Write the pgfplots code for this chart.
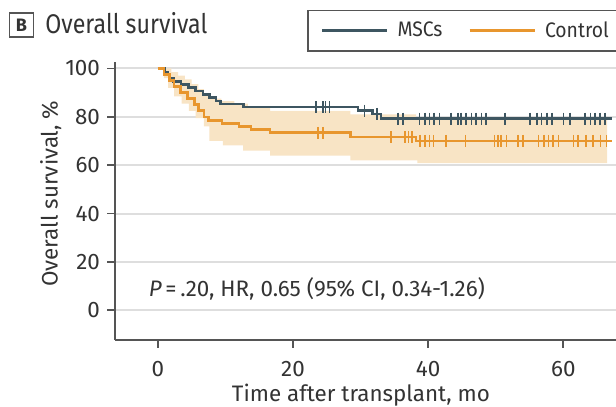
\documentclass[border=0pt]{standalone}
\usepackage{fontspec}
\setmainfont{Fira Sans}
\newfontfamily\titlefont{Fira Sans}[FakeStretch=0.86]
\newfontfamily\legfont{Fira Sans}[FakeStretch=0.92]
\usepackage{pgfplots}
\pgfplotsset{compat=1.18}
\definecolor{msc}{HTML}{3E5661}
\definecolor{ctl}{HTML}{E8962E}
\definecolor{band}{HTML}{F8E4C5}
\definecolor{axisc}{HTML}{555555}
\definecolor{gridc}{HTML}{DEDEDE}
\definecolor{txt}{HTML}{333333}

\pgfplotstableread{
t s
0 100
1.0 98.6
1.4 97.3
1.8 96.0
2.3 94.6
3.4 93.3
4.5 92.0
5.6 90.6
6.7 89.3
7.6 88.0
8.6 86.6
9.3 85.3
12.7 84.0
29.6 82.6
31.8 81.2
33.0 79.2
67.2 79.2
}\tabmsc

\pgfplotstableread{
t s
0 100
0.9 97.5
1.7 95.0
2.4 92.5
3.3 90.0
4.4 87.5
5.4 85.0
6.0 82.5
6.8 80.0
7.5 78.5
9.5 77.3
12.0 76.0
13.8 74.8
16.6 73.4
28.5 71.6
38.2 70.0
67.2 70.0
}\tabctl

\pgfplotstableread{
t s
0 100
2.0 100
2.0 98.5
3.0 98.5
3.0 97
4.0 97
4.0 95.5
5.0 95.5
5.0 93.5
6.0 93.5
6.0 91.5
6.8 91.5
6.8 89.5
7.6 89.5
7.6 87.5
9.4 87.5
9.4 86.5
11.3 86.5
11.3 85.5
13.3 85.5
13.3 84
16.6 84
16.6 82.5
28.5 82.5
28.5 81
38.2 81
38.2 79.8
66.5 79.8
66.5 60.8
38.4 60.8
38.4 62
28.5 62
28.5 64
16.6 64
16.6 66
12.6 66
12.6 68.2
9.6 68.2
9.6 70
7.6 70
7.6 76
6.8 76
6.8 79.5
5.6 79.5
5.6 82.5
4.6 82.5
4.6 85.5
3.5 85.5
3.5 88.5
2.4 88.5
2.4 92
1.5 92
1.5 96
0.9 96
0.9 100
0 100
}\tabband

\pgfplotstableread{
t s
23.4 84.0
24.4 84.0
24.8 84.0
25.4 84.0
30.6 82.6
32.4 81.2
35.5 79.2
36.3 79.2
38.7 79.2
39.5 79.2
40.2 79.2
40.9 79.2
41.7 79.2
43.4 79.2
44.4 79.2
44.9 79.2
45.6 79.2
46.4 79.2
47.1 79.2
47.9 79.2
48.6 79.2
51.4 79.2
55.1 79.2
56.1 79.2
56.8 79.2
57.6 79.2
58.3 79.2
60.0 79.2
61.0 79.2
63.2 79.2
64.0 79.2
64.7 79.2
65.4 79.2
66.2 79.2
}\tabmsccens

\pgfplotstableread{
t s
23.7 73.4
24.4 73.4
34.5 71.6
36.6 71.6
37.1 71.6
37.6 71.6
38.8 70.0
39.5 70.0
40.2 70.0
40.8 70.0
42.6 70.0
45.5 70.0
49.8 70.0
50.3 70.0
50.8 70.0
51.6 70.0
53.3 70.0
54.0 70.0
56.3 70.0
57.1 70.0
57.8 70.0
58.5 70.0
59.3 70.0
61.5 70.0
62.2 70.0
63.4 70.0
64.4 70.0
65.5 70.0
66.4 70.0
}\tabctlcens

\begin{document}
\begin{tikzpicture}
\path[use as bounding box] (0,0) rectangle (308bp,203.5bp);
\node[draw=axisc, line width=0.6bp, minimum width=12bp, minimum height=12bp, inner sep=0,
  text=txt, font=\fontsize{9bp}{11bp}\selectfont\bfseries] at (10.75bp,191bp) {B};
\node[anchor=base west, inner sep=0, text=txt, font=\titlefont\fontsize{13.5bp}{16bp}\selectfont] at (22.5bp,186.5bp) {Overall survival};
\begin{axis}[
  at={(57.5bp,33.6bp)}, anchor=south west,
  scale only axis, width=250.5bp, height=138.7bp,
  xmin=-6.35, xmax=67.8, ymin=-12.2, ymax=102.5,
  axis x line*=bottom, axis y line*=left,
  axis line style={axisc, line width=0.9bp},
  xtick={0,20,40,60}, ytick={0,20,40,60,80,100},
  tick align=outside, major tick length=4bp,
  tick style={axisc, line width=0.9bp},
  ymajorgrids, grid style={gridc, line width=1bp},
  /pgf/number format/assume math mode=true,
  ticklabel style={font=\fontsize{11.2bp}{13bp}\selectfont, text=txt},
  xticklabel style={yshift=-3bp},
  xlabel={Time after transplant, mo},
  xlabel style={at={(axis description cs:0.491,-0.2)}, anchor=center, text=txt, font=\fontsize{11.2bp}{13bp}\selectfont},
  ylabel={Overall survival, \%},
  ylabel style={at={(axis description cs:-0.128,0.527)}, anchor=center, text=txt, font=\fontsize{11.2bp}{13bp}\selectfont},
  legend style={at={(0.384,1.19)}, anchor=north west, draw=axisc, line width=0.6bp,
    inner xsep=6.5bp, inner ysep=3.5bp, text=txt, font=\legfont\fontsize{10.5bp}{12bp}\selectfont,
    /tikz/every even column/.append style={column sep=11bp}},
  legend columns=2,
  legend image code/.code={\draw[#1] (0bp,0bp) -- (32.5bp,0bp); \path (35bp,0bp);},
  clip=false,
]
\addplot[fill=band, draw=none, forget plot] table[x=t,y=s] {\tabband} -- cycle;
\addplot[msc, line width=1.3bp, const plot, no marks] table[x=t,y=s] {\tabmsc};
\addlegendentry{MSCs}
\addplot[ctl, line width=1.3bp, const plot, no marks] table[x=t,y=s] {\tabctl};
\addlegendentry{Control}
\addplot[msc, only marks, mark=|, mark size=3bp, mark options={line width=0.8bp}, forget plot] table[x=t,y=s] {\tabmsccens};
\addplot[ctl, only marks, mark=|, mark size=3bp, mark options={line width=0.8bp}, forget plot] table[x=t,y=s] {\tabctlcens};
\node[anchor=west, inner sep=0, text=txt, font=\fontsize{11.2bp}{13bp}\selectfont] at (axis cs:-1.4,9) {\textit{P}\,=\,.20, HR, 0.65 (95\% CI, 0.34-1.26)};
\end{axis}
\end{tikzpicture}
\end{document}
